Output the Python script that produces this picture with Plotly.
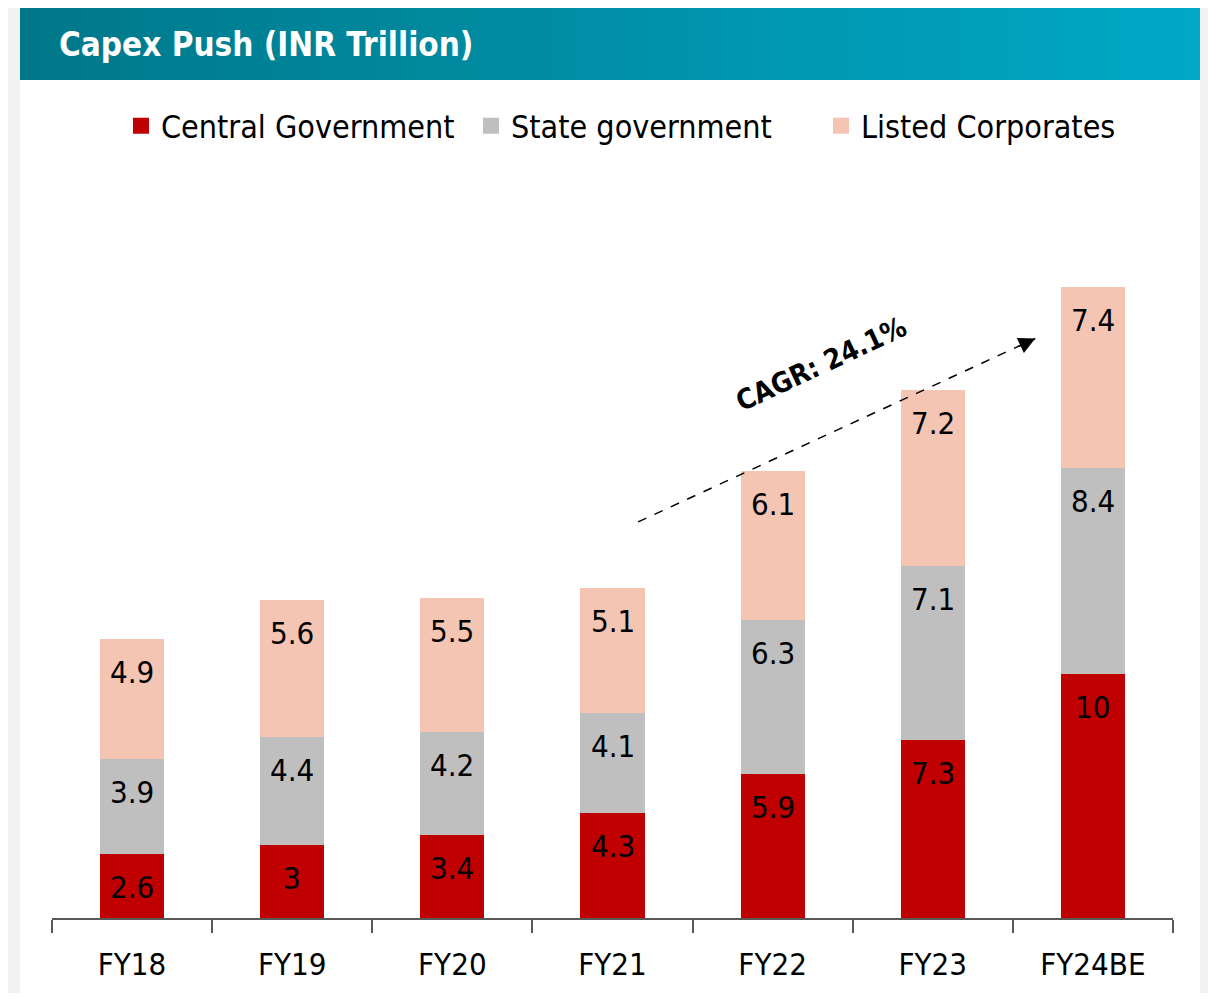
import plotly.graph_objects as go

categories = ["FY18", "FY19", "FY20", "FY21", "FY22", "FY23", "FY24BE"]
central = [2.6, 3.0, 3.4, 4.3, 5.9, 7.3, 10.0]
state = [3.9, 4.4, 4.2, 4.1, 6.3, 7.1, 8.4]
listed = [4.9, 5.6, 5.5, 5.1, 6.1, 7.2, 7.4]
series_names = ["Central Government", "State government", "Listed Corporates"]
series_colors = ["#c00000", "#bfbfbf", "#f5c5b4"]
title_text = "Capex Push (INR Trillion)"
cagr_text = "CAGR: 24.1%"

FONT = "DejaVu Sans Condensed, DejaVu Sans, sans-serif"
OFF = 8  # page body margin
W, H = 1216 - 2 * OFF, 1001 - 2 * OFF
PL, PR, PT, PB = 52, 1173, 160, 918  # plot area in page pixels
ML, MR, MT, MB = PL - OFF, W - (PR - OFF), PT - OFF, H - (PB - OFF)
PW, PH = PR - PL, PB - PT
YMAX = PH / 24.45


def px(x):
    return (x - PL) / PW


def py(y):
    return (PB - y) / PH


fig = go.Figure()
series = [central, state, listed]
for name, vals, col in zip(series_names, series, series_colors):
    fig.add_trace(go.Bar(x=categories, y=vals, name=name, marker_color=col,
                         marker_line_width=0, width=0.4, showlegend=False))
for name, col in zip(series_names, series_colors):
    fig.add_trace(go.Scatter(x=[None], y=[None], mode="markers", name=name,
                             marker=dict(symbol="square", size=18, color=col)))

annotations = []
cum = [0.0] * len(categories)
for vals in series:
    for i, v in enumerate(vals):
        cum[i] += v
        annotations.append(dict(x=categories[i], y=cum[i], xref="x", yref="y",
                                text=f"{v:g}", showarrow=False, yshift=-33,
                                font=dict(family=FONT, size=31, color="#000000")))

shapes = []
# page border (light gray) strips
shapes.append(dict(type="rect", xref="paper", yref="paper", x0=px(-20), x1=px(20),
                   y0=py(1020), y1=py(-20), fillcolor="#f2f2f2", line_width=0, layer="below"))
shapes.append(dict(type="rect", xref="paper", yref="paper", x0=px(1200), x1=px(1240),
                   y0=py(1020), y1=py(-20), fillcolor="#f2f2f2", line_width=0, layer="below"))
shapes.append(dict(type="rect", xref="paper", yref="paper", x0=px(-20), x1=px(1240),
                   y0=py(5), y1=py(-20), fillcolor="#f2f2f2", line_width=0, layer="below"))
# header gradient
c0 = (0x00, 0x78, 0x8a)
c1 = (0x00, 0xa8, 0xc6)
N = 60
x_start, x_end = 20, 1200
for k in range(N):
    t = k / (N - 1)
    col = "rgb({},{},{})".format(*[round(a + (b - a) * t) for a, b in zip(c0, c1)])
    xa = x_start + (x_end - x_start) * k / N
    xb = x_start + (x_end - x_start) * (k + 1) / N + 3
    shapes.append(dict(type="rect", xref="paper", yref="paper", x0=px(xa), x1=px(min(xb, x_end)),
                       y0=py(80), y1=py(5), fillcolor=col, line_width=0, layer="below"))

annotations.append(dict(x=px(57), y=py(44), xref="paper", yref="paper", xanchor="left",
                        yanchor="middle", text=title_text, showarrow=False,
                        font=dict(family=FONT, size=33, color="#ffffff", weight="bold")))

# CAGR dashed arrow
ax0, ay0 = 3.16, 16.2
ax1, ay1 = 5.64, 23.7
shapes.append(dict(type="line", xref="x", yref="y", x0=ax0, y0=ay0, x1=ax1, y1=ay1,
                   line=dict(color="#000000", width=1.5, dash="dash")))
annotations.append(dict(x=ax1, y=ay1, xref="x", yref="y", ax=-18, ay=8.5,
                        showarrow=True, arrowhead=2, arrowsize=2.2, standoff=0,
                        arrowwidth=1.5, arrowcolor="#000000", text=""))
annotations.append(dict(x=4.30, y=22.65, xref="x", yref="y", text=cagr_text, showarrow=False,
                        textangle=-25,
                        font=dict(family=FONT, size=28, color="#000000", weight="bold")))

fig.update_layout(
    width=W, height=H, barmode="stack",
    margin=dict(l=ML, r=MR, t=MT, b=MB),
    paper_bgcolor="#ffffff", plot_bgcolor="#ffffff",
    font=dict(family=FONT, color="#000000"),
    showlegend=True,
    legend=dict(orientation="h", x=px(92 - 41 + 41 - 0) + 41 / PW, xanchor="center",
                y=py(126), yanchor="middle",
                font=dict(family=FONT, size=32, color="#000000"), traceorder="normal",
                itemsizing="trace", bgcolor="rgba(0,0,0,0)", entrywidth=305),
    xaxis=dict(type="category", showline=True, linecolor="#595959", linewidth=1.5,
               ticks="outside", tickson="boundaries", ticklen=13, tickcolor="#595959",
               tickwidth=1.5, tickfont=dict(family=FONT, size=31, color="#000000"),
               ticklabelstandoff=18,
               showgrid=False, fixedrange=True),
    yaxis=dict(range=[0, YMAX], visible=False, showgrid=False, fixedrange=True),
    shapes=shapes, annotations=annotations,
)
# legend centre: previous centre (0.5) shifted right so first marker sits near x=133
fig.update_layout(legend_x=0.5 + (41 - 7.5) / PW)

fig.write_html("out.html")
